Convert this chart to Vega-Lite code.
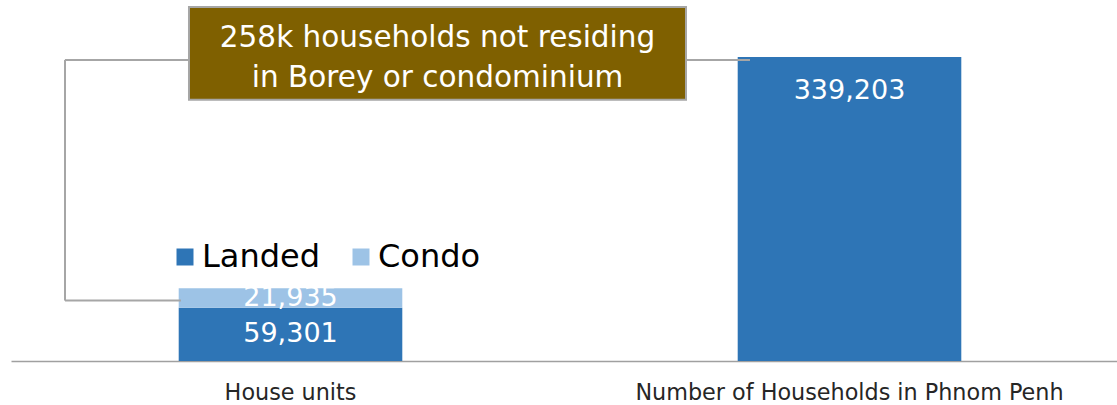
{
  "$schema": "https://vega.github.io/schema/vega-lite/v6.json",
  "width": 1106,
  "height": 361,
  "autosize": "none",
  "padding": {"left": 11, "top": 0, "right": 0, "bottom": 44},
  "background": "#ffffff",
  "config": {"view": {"stroke": null}, "font": "DejaVu Sans"},
  "datasets": {
    "bars": [
      {"category": "House units", "type": "Landed", "value": 59301, "order": 1},
      {"category": "House units", "type": "Condo", "value": 21935, "order": 2},
      {"category": "Number of Households in Phnom Penh", "type": "Households", "value": 339203, "order": 1}
    ],
    "connectors": [
      {"px": 0.3184, "px2": 0.0966, "py": 335870, "py2": 335870},
      {"px": 0.0966, "px2": 0.0966, "py": 335870, "py2": 67400},
      {"px": 0.0966, "px2": 0.304, "py": 67400, "py2": 67400},
      {"px": 1.2075, "px2": 1.322, "py": 335870, "py2": 335870}
    ],
    "box": [
      {"px": 0.3184, "px2": 1.2075, "py": 394900, "py2": 291300, "cx": 0.763, "cy": 360000, "label": "258k households not residing\nin Borey or condominium"}
    ]
  },
  "resolve": {"scale": {"x": "independent"}, "axis": {"x": "independent"}},
  "layer": [
    {
      "data": {"name": "bars"},
      "layer": [
        {
          "mark": {"type": "bar"},
          "encoding": {
            "x": {
              "field": "category", "type": "nominal",
              "scale": {"type": "band", "paddingInner": 0.6, "paddingOuter": 0.3, "range": [0, 1118]},
              "axis": {"title": null, "labelAngle": 0, "labelFontSize": 22.3, "labelColor": "#262626", "labelPadding": 20, "labelLimit": 0, "ticks": false, "domainColor": "#A0A0A0", "domainWidth": 1.5, "grid": false}
            },
            "y": {
              "field": "value", "type": "quantitative", "stack": "zero",
              "scale": {"domain": [0, 402700], "nice": false},
              "axis": null
            },
            "order": {"field": "order"},
            "color": {
              "field": "type", "type": "nominal",
              "scale": {"domain": ["Landed", "Condo", "Households"], "range": ["#2E75B6", "#9DC3E6", "#2E75B6"]},
              "legend": {
                "values": ["Landed", "Condo"],
                "title": null,
                "orient": "none",
                "legendX": 158,
                "legendY": 241,
                "direction": "horizontal",
                "symbolType": "square",
                "symbolSize": 289,
                "symbolStrokeWidth": 0,
                "symbolOpacity": 1,
                "labelFontSize": 32,
                "labelColor": "#000000",
                "labelOffset": 1,
                "columnPadding": 24
              }
            }
          }
        },
        {
          "transform": [
            {"filter": "datum.category == 'House units'"},
            {"stack": "value", "groupby": ["category"], "sort": [{"field": "order"}], "as": ["v0", "v1"]},
            {"calculate": "(datum.v0 + datum.v1) / 2", "as": "mid"}
          ],
          "mark": {"type": "text", "color": "#ffffff", "fontSize": 27, "baseline": "middle", "align": "center"},
          "encoding": {
            "x": {"field": "category", "type": "nominal"},
            "y": {"field": "mid", "type": "quantitative"},
            "text": {"field": "value", "type": "quantitative", "format": ","}
          }
        },
        {
          "transform": [{"filter": "datum.category != 'House units'"}],
          "mark": {"type": "text", "color": "#ffffff", "fontSize": 27, "baseline": "middle", "align": "center", "dy": 34},
          "encoding": {
            "x": {"field": "category", "type": "nominal"},
            "y": {"field": "value", "type": "quantitative"},
            "text": {"field": "value", "type": "quantitative", "format": ","}
          }
        }
      ]
    },
    {
      "layer": [
        {
          "data": {"name": "connectors"},
          "mark": {"type": "rule", "color": "#A6A6A6", "strokeWidth": 2},
          "encoding": {
            "x": {"field": "px", "type": "quantitative", "scale": {"domain": [0, 2], "range": [0, 1118], "nice": false, "zero": false}, "axis": null},
            "x2": {"field": "px2"},
            "y": {"field": "py", "type": "quantitative"},
            "y2": {"field": "py2"}
          }
        },
        {
          "data": {"name": "box"},
          "mark": {"type": "rect", "fill": "#7F6000", "stroke": "#A6A6A6", "strokeWidth": 2},
          "encoding": {
            "x": {"field": "px", "type": "quantitative"},
            "x2": {"field": "px2"},
            "y": {"field": "py", "type": "quantitative"},
            "y2": {"field": "py2"}
          }
        },
        {
          "data": {"name": "box"},
          "mark": {"type": "text", "color": "#ffffff", "fontSize": 29.5, "lineHeight": 40, "lineBreak": "\n", "align": "center", "baseline": "middle"},
          "encoding": {
            "x": {"field": "cx", "type": "quantitative"},
            "y": {"field": "cy", "type": "quantitative"},
            "text": {"field": "label"}
          }
        }
      ]
    }
  ]
}
